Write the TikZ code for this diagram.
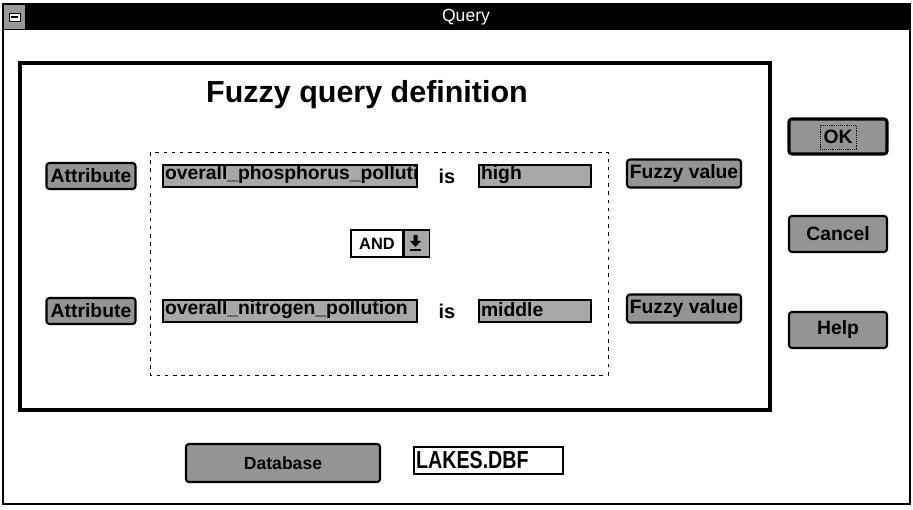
\documentclass[tikz,border=0pt]{standalone}
\usepackage{fontspec}
\setmainfont{Liberation Sans}
\usetikzlibrary{positioning}

\newcommand{\btnfont}{\fontsize{16.5}{16.5}\selectfont\bfseries}

\tikzset{
  sz/.style 2 args={minimum width=#1*0.03cm, minimum height=#2*0.03cm},
  win/.style={line width=1.2pt},
  qframe/.style={line width=3.5pt},
  btn/.style={draw=black, line width=1.8pt, rounded corners=2.5pt, fill=black!42, font=\btnfont, inner sep=0pt},
  field/.style={draw=black, line width=0.9pt, fill=black!34, inner sep=0pt},
  fieldtext/.style={anchor=west, font=\btnfont, inner sep=0pt, xshift=2pt, yshift=1pt},
  iskw/.style={font=\fontsize{17}{17}\selectfont\bfseries},
  plainbox/.style={draw=black, line width=0.9pt, fill=white, inner sep=0pt}
}

\begin{document}
\begin{tikzpicture}[x=0.03cm, y=-0.03cm]
\useasboundingbox (0,0) rectangle (913,510);
% window and title bar
\fill[black] (3,4) rectangle (910,30);
\draw[win] (3,4) rectangle (910,504);
\fill[black!40] (4,5) rectangle (25,29);
\draw[fill=white, line width=0.6pt] (9,13) rectangle (20,21);
\draw[line width=1pt] (11,17) -- (18,17);
\node[text=white, font=\fontsize{15}{15}\selectfont] (title) at (466,17) {Query};

% query frame
\draw[qframe] (20,63) rectangle (770,410);
\node[font=\fontsize{26}{26}\selectfont\bfseries] (head) at (367,95) {Fuzzy query definition};
\draw[dashed, dash pattern=on 3pt off 4pt, line width=0.8pt] (150,152) rectangle (608,375);

% the two conditions
\foreach \y/\attr/\val/\n in {176/overall\_phosphorus\_pollutio/high/1,
                              311/overall\_nitrogen\_pollution/middle/2}{
  \node[btn, sz={89}{26}] (attr\n) at (91,\y) {Attribute};
  \node[field, sz={254}{22}] (name\n) at (290,\y) {};
  \begin{scope}
    \clip (name\n.south west) rectangle (name\n.north east);
    \node[fieldtext] (nametext\n) at (name\n.west) {\makebox[6.2cm][l]{\attr}};
  \end{scope}
  \node[iskw] (is\n) at (447,\y) {is};
  \node[field, sz={112}{22}] (val\n) at (535,\y) {};
  \node[fieldtext] (valtext\n) at (val\n.west) {\val};
  \node[btn, sz={114}{28}] (fuzzy\n) at (684,\y-2.5) {Fuzzy value};
}

% connective
\node[plainbox, sz={52}{27}, font=\fontsize{14}{14}\selectfont\bfseries] (andbox) at (377,243.5) {AND};
\node[field, sz={25}{27}, anchor=west] (andarrow) at (andbox.east) {};
\fill[black] (413.5,235) -- (417.5,235) -- (417.5,241) -- (421,241) -- (415.5,247)
  -- (410,241) -- (413.5,241) -- cycle;
\fill[black] (410,249.5) rectangle (421,251.5);

% dialog buttons
\node[btn, line width=2.6pt, sz={98}{35}] (ok) at (838,136.5) {OK};
\draw[densely dotted, line width=0.6pt] (820,125) rectangle (856,149);
\foreach \y/\lab/\n in {234/Cancel/cancel, 330/Help/help}
  \node[btn, sz={98}{36}] (\n) at (838,\y) {\lab};

% database
\node[btn, sz={194}{38}, font=\fontsize{15}{15}\selectfont\bfseries] (db) at (283,463) {Database};
\node[plainbox, sz={149}{27}] (dbname) at (488.5,460.5) {};
\node[anchor=west, inner sep=0pt, xshift=2pt] (dbtext) at (dbname.west)
  {\scalebox{0.8}[1]{\fontsize{21}{21}\selectfont\bfseries LAKES.DBF}};
\end{tikzpicture}
\end{document}
